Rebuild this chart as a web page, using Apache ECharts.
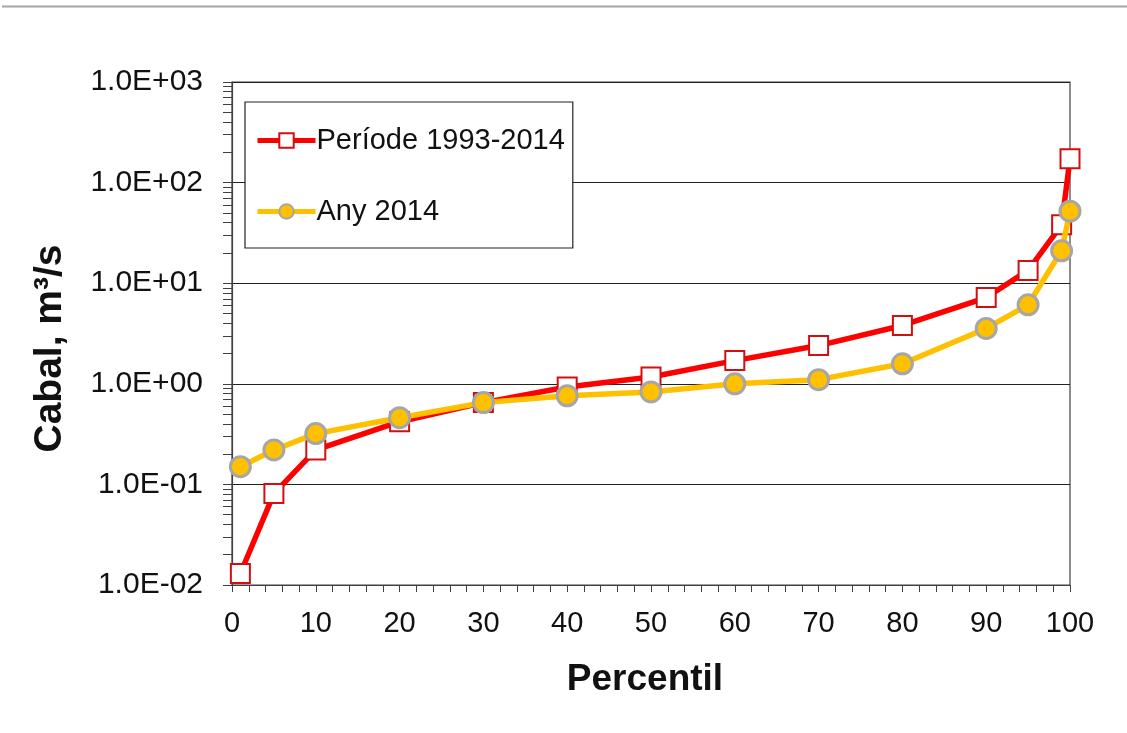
<!DOCTYPE html>
<html>
<head>
<meta charset="utf-8">
<script src="https://cdn.jsdelivr.net/npm/echarts@6/dist/echarts.min.js"></script>
<style>html,body{margin:0;padding:0;background:#fff;}#c{width:1127px;height:733px;}</style>
</head>
<body>
<div id="c"></div>
<script>
const percentiles = [1, 5, 10, 20, 30, 40, 50, 60, 70, 80, 90, 95, 99, 100];
const periode = [0.013, 0.081, 0.22, 0.42, 0.65, 0.93, 1.17, 1.7, 2.4, 3.8, 7.2, 13.4, 38, 173];
const any2014 = [0.15, 0.22, 0.32, 0.46, 0.65, 0.76, 0.83, 1.0, 1.1, 1.58, 3.55, 6.1, 21, 52];
const seriesNames = ['Període 1993-2014', 'Any 2014'];
const xTicks = [0,2,4,6,8,10,12,14,16,18,20,22,24,26,28,30,32,34,36,38,40,42,44,46,48,50,52,54,56,58,60,62,64,66,68,70,72,74,76,78,80,82,84,86,88,90,92,94,96,98,100];
const yTicks = [];
for (let d = -2; d < 3; d++) { for (let k = 1; k < 10; k++) yTicks.push(+(k * Math.pow(10, d)).toPrecision(3)); }
yTicks.push(1000);

function expFmt(v) {
  const e = Math.round(Math.log10(v));
  const m = v / Math.pow(10, e);
  const s = e < 0 ? '-' : '+';
  const a = Math.abs(e);
  return m.toFixed(1) + 'E' + s + (a < 10 ? '0' + a : a);
}

const FONT = 'Liberation Sans, Arial, sans-serif';
const chart = echarts.init(document.getElementById('c'), null, {renderer: 'canvas'});
chart.setOption({
  animation: false,
  backgroundColor: '#fff',
  textStyle: {fontFamily: FONT},
  graphic: [{type: 'line', shape: {x1: 2, y1: 6.5, x2: 1127, y2: 6.5}, style: {stroke: '#a6a6a6', lineWidth: 2}}],
  grid: {left: 232, right: 57, top: 82, bottom: 148, show: true, borderColor: '#404040', borderWidth: 1.2, backgroundColor: 'transparent'},
  legend: {
    left: 245, top: 102, orient: 'vertical', width: 330,
    data: seriesNames,
    backgroundColor: '#fff', borderColor: '#222', borderWidth: 1.2,
    padding: [24, 8, 22, 10], itemGap: 42, itemWidth: 58, itemHeight: 18,
    lineStyle: {width: 5},
    textStyle: {fontSize: 29, color: '#111', fontFamily: FONT, padding: [0, 0, 0, -4]}
  },
  xAxis: {
    type: 'value', min: 0, max: 100, interval: 10,
    name: 'Percentil', nameLocation: 'middle', nameGap: 76,
    nameTextStyle: {fontSize: 37, fontWeight: 'bold', color: '#111', padding: [0, 12, 0, 0]},
    axisLine: {show: true, lineStyle: {color: '#404040', width: 1.2}},
    axisTick: {show: true, length: 7, customValues: xTicks, lineStyle: {color: '#404040'}},
    axisLabel: {fontSize: 29, color: '#111', margin: 24},
    splitLine: {show: false}
  },
  yAxis: [{
    type: 'log', logBase: 10, min: 0.01, max: 1000,
    name: 'Cabal, m³/s', nameLocation: 'middle', nameGap: 162,
    nameTextStyle: {fontSize: 39, fontWeight: 'bold', color: '#111', padding: [0, 0, 0, -30]},
    axisLine: {show: true, lineStyle: {color: '#404040', width: 1.2}},
    axisTick: {show: true, length: 9, lineStyle: {color: '#404040'}},
    axisLabel: {fontSize: 30, color: '#111', margin: 29, formatter: expFmt},
    splitLine: {show: true, lineStyle: {color: '#222', width: 1.2}}
  }, {
    type: 'log', logBase: 10, min: 0.01, max: 1000, position: 'left',
    axisLine: {show: false},
    axisTick: {show: true, length: 9, customValues: yTicks, lineStyle: {color: '#404040'}},
    axisLabel: {show: false},
    splitLine: {show: false}
  }],
  series: [
    {
      name: seriesNames[0], type: 'line',
      data: percentiles.map((p, i) => [p, periode[i]]),
      symbol: 'rect', symbolSize: 19,
      lineStyle: {color: '#ff0000', width: 5.5},
      itemStyle: {color: '#ffffff', borderColor: '#d01010', borderWidth: 2},
      z: 3
    },
    {
      name: seriesNames[1], type: 'line',
      data: percentiles.map((p, i) => [p, any2014[i]]),
      symbol: 'circle', symbolSize: 20,
      lineStyle: {color: '#ffc000', width: 5.5},
      itemStyle: {color: '#ffc000', borderColor: '#a6a6a6', borderWidth: 3},
      z: 4
    }
  ]
});
</script>
</body>
</html>
